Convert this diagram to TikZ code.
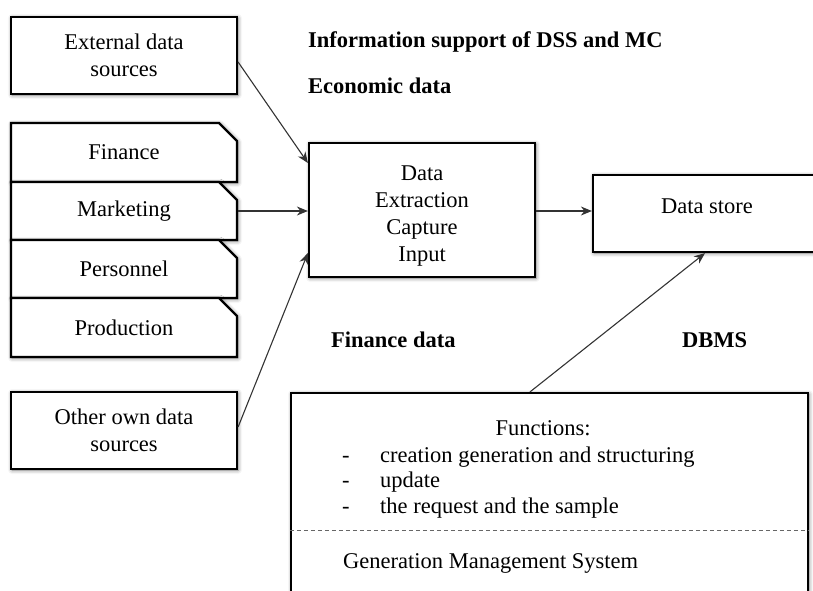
\documentclass[tikz,border=0pt]{standalone}
\usepackage{fontspec}
\setmainfont{Liberation Serif}
\usetikzlibrary{arrows.meta,shapes.misc,shadows.blur}

\begin{document}
\begin{tikzpicture}[x=1pt,y=-1pt,
  fnt/.style={font=\fontsize{22.5}{27}\selectfont},
  box/.style={draw=black,line width=2.2pt,fill=white,rectangle,fnt,align=center,
    blur shadow={shadow xshift=1pt,shadow yshift=-1pt,shadow blur radius=4pt,shadow opacity=55}},
  srcbox/.style={box,minimum width=226pt,minimum height=77pt},
  deptbox/.style={box,chamfered rectangle,chamfered rectangle corners=north east,
    chamfered rectangle xsep=9pt,chamfered rectangle ysep=9pt,
    minimum width=226pt},
  inner/.style={fnt,align=center,inner sep=0pt},
  txt/.style={fnt,anchor=base west,inner sep=0pt},
  head/.style={txt,font=\fontsize{22.5}{27}\selectfont\bfseries},
  link/.style={draw=black!80,line width=1.1pt,-{Stealth[length=11pt,width=9pt]}}]

\useasboundingbox (0,0) rectangle (813,590);
\clip (0,0) rectangle (813,590);

% headings
\node[head] (h1) at (308,47) {Information support of DSS and MC};
\node[head] (h2) at (308,93) {Economic data};
\node[head] (h3) at (331,347) {Finance data};
\node[head] (h4) at (682,347) {DBMS};

% sources
\node[srcbox] (ext) at (124,55.5) {External data\\sources};
\node[deptbox,minimum height=59pt] (fin) at (124,152.5) {Finance};
\node[deptbox,minimum height=58pt] (mkt) at (124,211) {Marketing};
\node[deptbox,minimum height=58pt] (per) at (124,269) {Personnel};
\node[deptbox,minimum height=59pt] (prod) at (124,327.5) {Production};
\node[srcbox] (other) at (124,430.5) {Other own data\\sources};

% processing and storage
\node[box,minimum width=226pt,minimum height=134pt] (dx) at (422,210) {};
\node[inner] (dxt) at (422,216) {Data\\Extraction\\Capture\\Input};
\node[box,minimum width=228pt,minimum height=77pt] (ds) at (707,213.5) {};
\node[inner] (dst) at (707,206) {Data store};

% DBMS block (runs past the lower edge)
\node[box,minimum width=517pt,minimum height=250pt] (dbms) at (549.5,518) {};
\node[txt,anchor=base] (fn) at (543,435) {Functions:};
\node[txt] (d1) at (342,462) {-};
\node[txt] (f1) at (380,462) {creation generation and structuring};
\node[txt] (d2) at (342,487) {-};
\node[txt] (f2) at (380,487) {update};
\node[txt] (d3) at (342,513) {-};
\node[txt] (f3) at (380,513) {the request and the sample};
\draw[black!60,line width=0.9pt,dash pattern=on 4pt off 3pt]
  (dbms.west |- 0,530) coordinate (sepl) -- (dbms.east |- 0,530) coordinate (sepr);
\node[txt] (gms) at (343,568) {Generation Management System};

% connectors
\draw[link] ([yshift=-6.5pt]ext.east) -- ([yshift=47pt]dx.west);
\draw[link] (mkt.east) -- (mkt.east -| dx.west);
\draw[link] ([yshift=3.5pt]other.east) -- ([yshift=-43pt]dx.west);
\draw[link] ([yshift=-1pt]dx.east) -- ([yshift=-1pt]dx.east -| ds.west);
\draw[link] ([xshift=-19.5pt]dbms.north) -- ([xshift=-2pt]ds.south);
\end{tikzpicture}
\end{document}
